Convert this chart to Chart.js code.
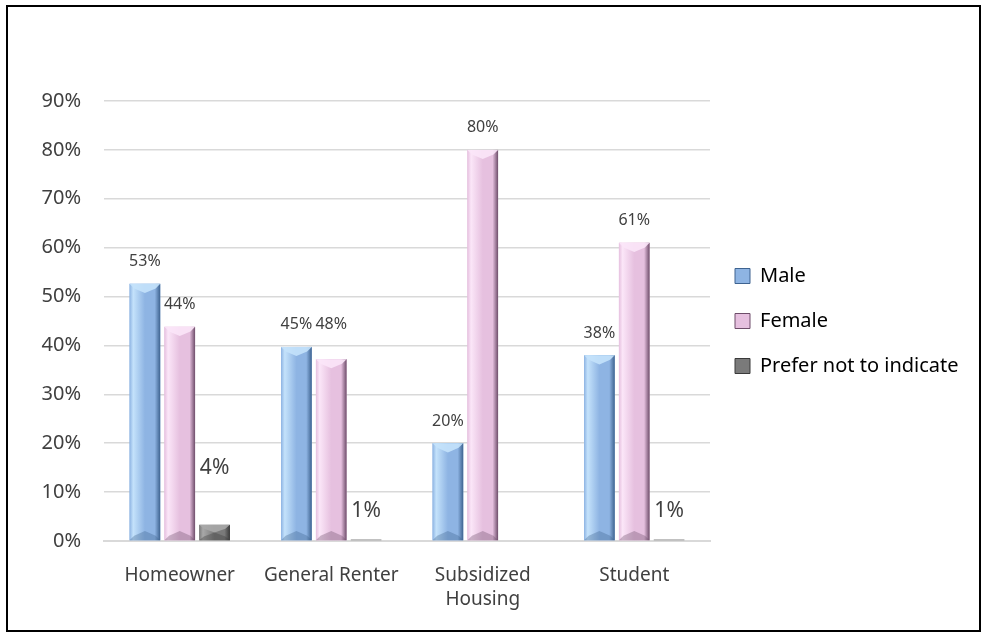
<!DOCTYPE html>
<html>
<head>
<meta charset="utf-8">
<script src="https://cdn.jsdelivr.net/npm/chart.js@4/dist/chart.umd.min.js"></script>
<style>
  html, body { margin: 0; padding: 0; background: #fff; }
  #wrap { position: relative; width: 984px; height: 634px; }
  #frame { position: absolute; left: 6px; top: 5px; width: 971px; height: 623px; border: 2px solid #000; pointer-events: none; }
  canvas { position: absolute; left: 0; top: 0; }
</style>
</head>
<body>
<div id="wrap">
  <canvas id="chart" width="984" height="634"></canvas>
  <div id="frame"></div>
</div>
<script>
// categories and series (percent)
const categories = ["Homeowner", "General Renter", ["Subsidized", "Housing"], "Student"];
const maleValues = [52.6, 39.7, 20, 38];
const femaleValues = [43.8, 37.2, 80, 61];
const preferValues = [3.3, 0.3, null, 0.3];

// data label text as printed on the chart
const maleLabels = ["53%", "45%", "20%", "38%"];
const femaleLabels = ["44%", "48%", "80%", "61%"];
const preferLabels = ["4%", "1%", "", "1%"];

const yTicks = [0, 10, 20, 30, 40, 50, 60, 70, 80, 90];

const FONT = "'Noto Sans', 'Open Sans', sans-serif";

// shading for the bevelled bars
const shades = [
  { light: "#c4e2fb", mid: "#8eb4e3", dark: "#3e6390" },
  { light: "#fbe6f8", mid: "#e6c0df", dark: "#6e4d6a" },
  { light: "#a8a8a8", mid: "#7a7a7a", dark: "#3a3a3a" },
];

// legend is wider than Chart.js allows for a side box, so fix its width
const legendWidthPlugin = {
  id: "legendWidth",
  afterInit(chart) {
    const legend = chart.legend;
    if (!legend) return;
    const fit = legend.fit;
    legend.fit = function () {
      fit.call(this);
      this.width = 263;
    };
  },
};

const bevelPlugin = {
  id: "bevel",
  afterDatasetsDraw(chart) {
    const ctx = chart.ctx;
    chart.data.datasets.forEach((ds, di) => {
      const meta = chart.getDatasetMeta(di);
      const s = shades[di];
      meta.data.forEach((bar, i) => {
        if (ds.data[i] == null) return;
        const { x, y, base, width } = bar.getProps(["x", "y", "base", "width"], true);
        const l = x - width / 2, r = x + width / 2, h = base - y;
        if (h < 1) return;
        ctx.save();
        const g = ctx.createLinearGradient(l, 0, r, 0);
        g.addColorStop(0, s.mid);
        g.addColorStop(0.12, s.light);
        g.addColorStop(0.5, s.mid);
        g.addColorStop(0.82, s.mid);
        g.addColorStop(1, s.dark);
        ctx.fillStyle = g;
        ctx.fillRect(l, y, width, h);
        // top chevron
        const cap = Math.min(width * 0.3, h / 2);
        ctx.fillStyle = s.light;
        ctx.globalAlpha = 0.9;
        ctx.beginPath();
        ctx.moveTo(l, y);
        ctx.lineTo(r, y);
        ctx.lineTo(r - width * 0.15, y + cap * 0.5);
        ctx.lineTo(x, y + cap);
        ctx.lineTo(l + width * 0.15, y + cap * 0.5);
        ctx.closePath();
        ctx.fill();
        // bottom chevron
        ctx.globalAlpha = 0.35;
        ctx.fillStyle = s.dark;
        ctx.beginPath();
        ctx.moveTo(l, base);
        ctx.lineTo(r, base);
        ctx.lineTo(r - width * 0.15, base - cap * 0.5);
        ctx.lineTo(x, base - cap);
        ctx.lineTo(l + width * 0.15, base - cap * 0.5);
        ctx.closePath();
        ctx.fill();
        ctx.restore();
      });
    });
  },
};

const labelPlugin = {
  id: "barLabels",
  afterDatasetsDraw(chart, args, opts) {
    const ctx = chart.ctx;
    chart.data.datasets.forEach((ds, di) => {
      const meta = chart.getDatasetMeta(di);
      const st = opts.styles[di];
      meta.data.forEach((bar, i) => {
        const txt = ds.labels[i];
        if (!txt) return;
        ctx.save();
        ctx.font = st.size + "px " + FONT;
        ctx.fillStyle = "#404040";
        ctx.textAlign = "center";
        ctx.textBaseline = "middle";
        const off = st.offsets ? st.offsets[i] : st.offset;
        ctx.fillText(txt, bar.x, bar.y - off);
        ctx.restore();
      });
    });
  },
};

new Chart(document.getElementById("chart"), {
  type: "bar",
  data: {
    labels: categories,
    datasets: [
      { label: "Male", data: maleValues, labels: maleLabels, backgroundColor: shades[0].mid },
      { label: "Female", data: femaleValues, labels: femaleLabels, backgroundColor: shades[1].mid },
      { label: "Prefer not to indicate", data: preferValues, labels: preferLabels, backgroundColor: shades[2].mid },
    ],
  },
  options: {
    responsive: false,
    animation: false,
    categoryPercentage: 0.69,
    barPercentage: 0.88,
    layout: { padding: { left: 20, top: 101, right: 11, bottom: 0 } },
    scales: {
      x: {
        grid: { display: false, drawTicks: false },
        border: { color: "#d9d9d9", width: 2 },
        ticks: { color: "#404040", font: { family: FONT, size: 19, lineHeight: 1.3 }, padding: 22, maxRotation: 0, autoSkip: false },
        afterFit(scale) { scale.height = 93; },
      },
      y: {
        min: 0,
        max: 90,
        afterBuildTicks(scale) { scale.ticks = yTicks.map((v) => ({ value: v })); },
        grid: { color: "#d9d9d9", lineWidth: 1.5, drawTicks: false },
        border: { display: false },
        ticks: { color: "#404040", font: { family: FONT, size: 20 }, padding: 23, callback: (v) => v + "%" },
        afterFit(scale) { scale.width = 84; },
      },
    },
    plugins: {
      tooltip: { enabled: false },
      legend: {
        position: "right",
        fullSize: false,
        labels: {
          color: "#404040",
          font: { family: FONT, size: 20 },
          boxWidth: 15,
          boxHeight: 15,
          padding: 25,
          generateLabels(chart) {
            return chart.data.datasets.map((ds, i) => ({
              text: ds.label,
              fillStyle: shades[i].mid,
              strokeStyle: shades[i].dark,
              lineWidth: 1,
              datasetIndex: i,
            }));
          },
        },
      },
      barLabels: {
        styles: [
          { size: 16, offset: 22 },
          { size: 16, offsets: [22, 35, 22, 22] },
          { size: 21, offsets: [57, 29, 0, 29] },
        ],
      },
    },
  },
  plugins: [legendWidthPlugin, bevelPlugin, labelPlugin],
});
</script>
</body>
</html>
